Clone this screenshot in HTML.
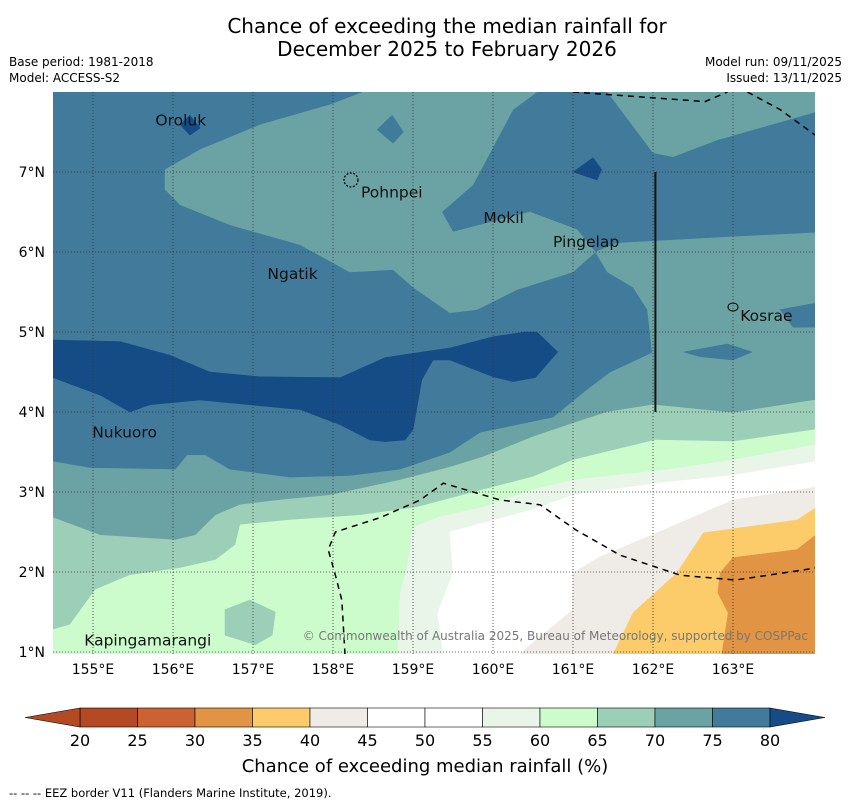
<!DOCTYPE html>
<html><head><meta charset="utf-8"><style>
body{margin:0;background:#fff;font-family:"Liberation Sans","DejaVu Sans",sans-serif;}
svg text{font-family:"DejaVu Sans","Liberation Sans",sans-serif;}
</style></head><body>
<svg id="chart" width="850" height="804" viewBox="0 0 850 804" xmlns="http://www.w3.org/2000/svg">
<text x="447" y="33" font-size="20" text-anchor="middle">Chance of exceeding the median rainfall for</text>
<text x="447" y="56" font-size="20" text-anchor="middle">December 2025 to February 2026</text>
<text x="9" y="66" font-size="12">Base period: 1981-2018</text>
<text x="9" y="82" font-size="12">Model: ACCESS-S2</text>
<text x="842" y="66" font-size="12" text-anchor="end">Model run: 09/11/2025</text>
<text x="842" y="82" font-size="12" text-anchor="end">Issued: 13/11/2025</text>
<defs><clipPath id="clip"><rect x="53" y="92" width="762" height="562"/></clipPath></defs>
<g id="map" clip-path="url(#clip)"></g>
<g id="axes"></g>
<g id="cbar"></g>
<text x="425" y="772" font-size="18" text-anchor="middle">Chance of exceeding median rainfall (%)</text>
<text x="9" y="797" font-size="11.5">--  --  -- EEZ border V11 (Flanders Marine Institute, 2019).</text>
</svg>
<script>
const lonTicks=[155,156,157,158,159,160,161,162,163];
const latTicks=[1,2,3,4,5,6,7];
const cbLevels=[20,25,30,35,40,45,50,55,60,65,70,75,80];
const cbColors=["#b34a24","#cc6231","#e09444","#fdcc6a","#efebe6","#ffffff","#ffffff","#eaf5ea","#ccfccc","#9dcfb8","#6ba3a4","#417a9a"];
const cbLowColor="#b34a24", cbHighColor="#154c85";
const tealLow=[[154.5,3.38],[154.96,3.3],[156.03,3.28],[156.18,3.46],[156.4,3.46],[156.71,3.28],[157.46,3.18],[158.21,3.2],[158.84,3.28],[159.46,3.49],[159.84,3.74],[160.75,3.93],[161.18,4.28],[161.46,4.49],[161.99,4.74],[161.93,5.28],[161.75,5.56],[161.43,5.75],[161.28,6.0],[161.55,6.11],[163.0,6.19],[164.03,6.24],[164.03,0.97],[154.5,0.97]];
const mint=[[154.5,2.68],[155.09,2.46],[156.03,2.4],[156.28,2.46],[156.53,2.71],[156.84,2.84],[157.34,2.9],[157.96,2.96],[158.84,3.15],[159.46,3.31],[159.88,3.44],[160.5,3.69],[161.0,3.86],[161.43,4.0],[162.0,4.09],[163.0,3.99],[164.03,4.15],[164.03,0.97],[154.5,0.97]];
const lightGreen=[[154.5,1.28],[154.71,1.34],[155.03,1.78],[155.46,1.96],[156.09,2.05],[156.53,2.15],[156.78,2.34],[156.84,2.59],[157.46,2.65],[158.34,2.71],[159.05,2.81],[159.88,3.03],[160.5,3.19],[161.0,3.4],[162.03,3.65],[163.0,3.63],[164.03,3.78],[164.03,0.97],[154.5,0.97]];
const veryLight=[[158.81,0.97],[158.84,1.74],[158.93,2.06],[159.0,2.56],[159.34,2.69],[159.88,2.81],[160.5,3.03],[161.0,3.15],[162.18,3.28],[163.0,3.4],[164.03,3.59],[164.03,0.97]];
const whiteZone=[[159.38,0.97],[159.31,1.49],[159.5,1.99],[159.46,2.5],[160.5,2.78],[161.0,2.96],[162.05,3.11],[163.0,3.21],[164.03,3.38],[164.03,0.97]];
const greyZone=[[160.34,0.97],[160.43,1.06],[160.99,1.52],[161.0,1.99],[161.34,2.19],[162.05,2.49],[163.0,2.9],[164.03,3.06],[164.03,0.97]];
const yellowZone=[[161.5,0.97],[161.75,1.49],[162.3,1.99],[162.63,2.49],[163.8,2.65],[164.03,2.8],[164.03,0.97]];
const orangeZone=[[162.86,0.97],[162.94,1.49],[162.81,1.74],[162.84,1.99],[163.0,2.18],[163.8,2.28],[164.03,2.46],[164.03,0.97]];
const mintPatch=[[156.65,1.53],[156.96,1.65],[157.28,1.5],[157.24,1.21],[157.03,1.09],[156.65,1.21]];
const tealUpper=[[158.38,8],[157.96,7.84],[157.09,7.59],[156.34,7.28],[155.9,7.03],[155.9,6.78],[156.09,6.59],[156.71,6.34],[157.59,6.09],[158.21,5.75],[158.75,5.78],[159.0,5.56],[159.46,5.24],[159.8,5.28],[160.3,5.53],[161.0,5.75],[161.28,6.0],[161.05,6.28],[160.46,6.5],[159.5,6.25],[159.36,6.5],[159.75,6.84],[160.0,7.31],[160.25,7.78],[160.55,8]];
const tealTopRight=[[161.43,8],[164.03,8],[164.03,7.75],[162.8,7.4],[162.25,7.19],[162.0,7.24]];
const darkest=[[154.5,4.9],[155.34,4.88],[155.96,4.71],[156.46,4.5],[157.09,4.44],[158.09,4.43],[158.65,4.68],[159.05,4.74],[159.46,4.8],[160.0,4.94],[160.4,5.0],[160.55,5.0],[160.81,4.75],[160.53,4.43],[160.25,4.38],[160.0,4.44],[159.46,4.65],[159.25,4.65],[159.11,4.4],[159.0,3.78],[158.9,3.65],[158.65,3.63],[158.46,3.65],[158.09,3.84],[157.59,4.03],[156.96,4.09],[156.34,4.15],[155.71,4.09],[155.46,4.0],[155.09,4.21],[154.5,4.43]];
const darkPatch1=[[158.55,7.53],[158.74,7.71],[158.88,7.5],[158.75,7.36]];
const darkPatchKosrae=[[163.59,5.28],[164.03,5.36],[164.03,5.06],[163.75,5.06]];
const darkLens=[[162.38,4.75],[162.93,4.85],[163.24,4.75],[163.0,4.65],[162.59,4.69]];
const darkestOroluk=[[156.09,7.59],[156.21,7.71],[156.34,7.55],[156.21,7.46]];
const darkestMokil=[[161.0,7.0],[161.25,7.18],[161.36,7.03],[161.3,6.9]];
const eezTop=[[161.0,8],[162.65,7.88],[162.93,8]];
const eezRight=[[163.18,8],[163.59,7.78],[164.03,7.46]];
const eezLower=[[158.15,0.97],[158.11,1.65],[158.03,1.96],[157.94,2.28],[158.03,2.5],[158.59,2.68],[159.09,2.9],[159.38,3.11],[160.09,2.9],[160.59,2.84],[161.03,2.53],[161.59,2.21],[162.34,1.96],[163.03,1.9],[163.71,2.0],[164.03,2.05]];
const boundaryLine=[[162.03,7.0],[162.03,4.0]];
const islandNames=["Oroluk","Pohnpei","Mokil","Pingelap","Ngatik","Kosrae","Nukuoro","Kapingamarangi"];
const islandLon=[155.78,158.35,159.88,160.75,157.18,163.09,154.99,154.89];
const islandLat=[7.58,6.68,6.36,6.06,5.66,5.14,3.68,1.08];

const NS="http://www.w3.org/2000/svg";
const X=lon=>53+(lon-154.5)*80;
const Y=lat=>92+(8-lat)*80;
const pts=a=>a.map(p=>X(p[0]).toFixed(1)+","+Y(p[1]).toFixed(1)).join(" ");
const map=document.getElementById("map");
function mk(tag,attrs,parent){const e=document.createElementNS(NS,tag);for(const k in attrs)e.setAttribute(k,attrs[k]);parent.appendChild(e);return e;}

let bg=mk("rect",{x:53,y:92,width:762,height:562,fill:"#417a9a"},map);


const regions=[[tealLow,"#6ba3a4","band-70-75-south"],[mint,"#9dcfb8","band-65-70"],[lightGreen,"#ccfccc","band-60-65"],[veryLight,"#eaf5ea","band-55-60"],[whiteZone,"#ffffff","band-45-55"],[greyZone,"#efebe6","band-40-45"],[yellowZone,"#fdcc6a","band-35-40"],[orangeZone,"#e09444","band-30-35"],[mintPatch,"#9dcfb8","band-65-70-patch"],[tealUpper,"#6ba3a4","band-70-75-north"],[tealTopRight,"#6ba3a4","band-70-75-northeast"],[darkest,"#154c85","band-above-80"],[darkPatch1,"#417a9a","band-75-80-patch"],[darkPatchKosrae,"#417a9a","band-75-80-kosrae"],[darkLens,"#417a9a","band-75-80-lens"],[darkestOroluk,"#154c85","band-above-80-oroluk"],[darkestMokil,"#154c85","band-above-80-mokil"]];
regions.forEach(r=>{
  const p=mk("polygon",{points:pts(r[0]),fill:r[1],stroke:r[1],"stroke-width":0.5},map);
  
  
});
lonTicks.forEach(l=>{const g=mk("line",{x1:X(l),x2:X(l),y1:92,y2:654,stroke:"#333","stroke-width":0.8,"stroke-dasharray":"1,2"},map);

});
latTicks.forEach(l=>{const g=mk("line",{x1:53,x2:815,y1:Y(l),y2:Y(l),stroke:"#333","stroke-width":0.8,"stroke-dasharray":"1,2"},map);

});
[eezTop,eezRight,eezLower].forEach(a=>{const e=mk("polyline",{points:pts(a),fill:"none",stroke:"#000","stroke-width":1.5,"stroke-dasharray":"6,5"},map);

});
let bl=mk("polyline",{points:pts(boundaryLine),fill:"none",stroke:"#111","stroke-width":2},map);


let pohn=mk("circle",{cx:351,cy:180,r:7,fill:"none",stroke:"#000","stroke-width":1.2,"stroke-dasharray":"2,1.5"},map);


let kos=mk("ellipse",{cx:733,cy:307,rx:5,ry:4,fill:"none",stroke:"#000","stroke-width":1},map);


islandNames.forEach((n,i)=>{
  const t=mk("text",{x:X(islandLon[i]),y:Y(islandLat[i]),"font-size":15.5,fill:"#111"},map);
  t.textContent=n;
  
  
});
let cp=mk("text",{x:808,y:640,"font-size":12,fill:"#777","text-anchor":"end"},map);
cp.textContent="© Commonwealth of Australia 2025, Bureau of Meteorology, supported by COSPPac";



const axes=document.getElementById("axes");
lonTicks.forEach(l=>{const t=mk("text",{x:X(l),y:674,"font-size":14,"text-anchor":"middle"},axes);t.textContent=l+"°E";

});
latTicks.forEach(l=>{const t=mk("text",{x:45,y:Y(l)+5,"font-size":14,"text-anchor":"end"},axes);t.textContent=l+"°N";

});

const cb=document.getElementById("cbar");
const cx0=80,cx1=770,cy0=708,cy1=727,cw=(cx1-cx0)/cbColors.length;
const cv=v=>cx0+(v-cbLevels[0])/(cbLevels[cbLevels.length-1]-cbLevels[0])*(cx1-cx0);
cbColors.forEach((c,i)=>{const r=mk("rect",{x:cv(cbLevels[i]),y:cy0,width:cw,height:cy1-cy0,fill:c,stroke:"#000","stroke-width":0.6},cb);

});
let la=mk("polygon",{points:`${cx0},${cy0} 25,${(cy0+cy1)/2} ${cx0},${cy1}`,fill:cbLowColor,stroke:"#000","stroke-width":0.6},cb);


let ra=mk("polygon",{points:`${cx1},${cy0} 825,${(cy0+cy1)/2} ${cx1},${cy1}`,fill:cbHighColor,stroke:"#000","stroke-width":0.6},cb);


cbLevels.forEach(v=>{const t=mk("text",{x:cv(v),y:746,"font-size":16,"text-anchor":"middle"},cb);t.textContent=v;

});
</script>
</body></html>
